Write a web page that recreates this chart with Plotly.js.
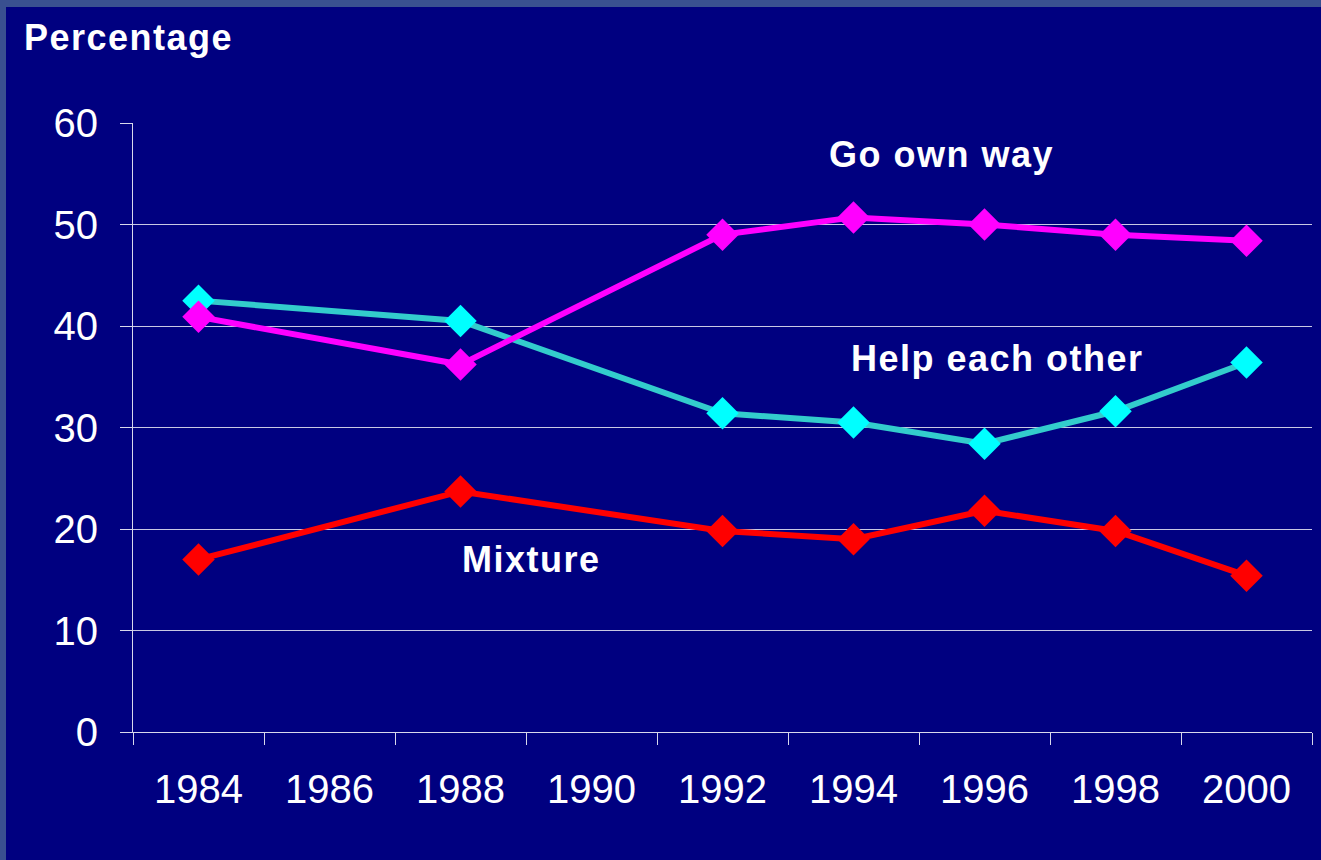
<!DOCTYPE html>
<html>
<head>
<meta charset="utf-8">
<script src="https://cdn.plot.ly/plotly-3.0.1.min.js"></script>
<style>
  html, body { margin: 0; padding: 0; background: #395090; width: 1321px; height: 860px; overflow: hidden; }
  #chart { position: absolute; left: 6px; top: 7px; width: 1315px; height: 853px; }
  .annotation-text { letter-spacing: 1.5px; }
</style>
</head>
<body>
<div id="chart"></div>
<script>
const categories = ['1984','1986','1988','1990','1992','1994','1996','1998','2000'];
const surveyYears = ['1984','1988','1992','1994','1996','1998','2000'];
const goOwnWay = [40.9, 36.2, 49.0, 50.7, 50.0, 49.0, 48.4];
const helpEachOther = [42.5, 40.5, 31.4, 30.5, 28.4, 31.6, 36.4];
const mixture = [17.0, 23.7, 19.8, 19.0, 21.8, 19.8, 15.4];
const yTicks = [0, 10, 20, 30, 40, 50, 60];

const FONT = '"Liberation Sans", Arial, sans-serif';

const traces = [
  {
    x: surveyYears, y: mixture, name: 'Mixture', type: 'scatter', mode: 'lines+markers',
    line: {color: '#ff0000', width: 6},
    marker: {symbol: 'diamond', size: 25, color: '#ff0000'}
  },
  {
    x: surveyYears, y: helpEachOther, name: 'Help each other', type: 'scatter', mode: 'lines+markers',
    line: {color: '#33cccc', width: 6},
    marker: {symbol: 'diamond', size: 25, color: '#00ffff'}
  },
  {
    x: surveyYears, y: goOwnWay, name: 'Go own way', type: 'scatter', mode: 'lines+markers',
    line: {color: '#ff00ff', width: 6},
    marker: {symbol: 'diamond', size: 25, color: '#ff00ff'}
  }
];

const labelFont = {family: FONT, size: 36, color: '#ffffff', weight: 'bold'};

const layout = {
  width: 1315, height: 853,
  paper_bgcolor: '#000080',
  plot_bgcolor: '#000080',
  showlegend: false,
  margin: {l: 127, r: 9, t: 116, b: 128, pad: 0},
  font: {family: FONT, color: '#ffffff'},
  xaxis: {
    type: 'category',
    categoryorder: 'array',
    categoryarray: categories,
    tickvals: categories,
    range: [-0.5, 8.5],
    tickson: 'boundaries',
    ticks: 'outside', ticklen: 12, tickwidth: 1, tickcolor: '#d8d8ec',
    showline: true, linecolor: '#d8d8ec', linewidth: 1,
    showgrid: false, zeroline: false,
    tickfont: {family: FONT, size: 40, color: '#ffffff'},
    ticklabelstandoff: 22
  },
  yaxis: {
    range: [0, 60],
    tickvals: yTicks,
    ticks: 'outside', ticklen: 12, tickwidth: 1, tickcolor: '#d8d8ec',
    showline: true, linecolor: '#d8d8ec', linewidth: 1,
    showgrid: true, gridcolor: '#c8c8e4', gridwidth: 1,
    zeroline: false,
    tickfont: {family: FONT, size: 40, color: '#ffffff'},
    ticklabelstandoff: 14
  },
  annotations: [
    {text: 'Percentage', xref: 'paper', yref: 'paper', x: -0.0042, y: 1.141, xanchor: 'center', yanchor: 'middle', showarrow: false, font: labelFont},
    {text: 'Go own way', xref: 'x', yref: 'y', x: 5.67, y: 56.9, xanchor: 'center', yanchor: 'middle', showarrow: false, font: labelFont},
    {text: 'Help each other', xref: 'x', yref: 'y', x: 6.10, y: 36.8, xanchor: 'center', yanchor: 'middle', showarrow: false, font: labelFont},
    {text: 'Mixture', xref: 'x', yref: 'y', x: 2.54, y: 17.0, xanchor: 'center', yanchor: 'middle', showarrow: false, font: labelFont}
  ]
};

Plotly.newPlot('chart', traces, layout, {displayModeBar: false, staticPlot: true});
</script>
</body>
</html>
